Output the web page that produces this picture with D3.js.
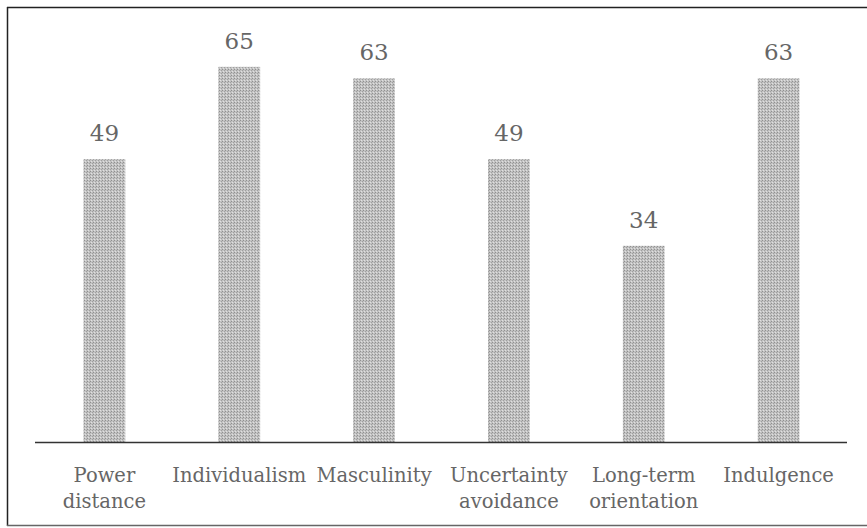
<!DOCTYPE html>
<meta charset="utf-8">
<style>
	body { margin: 0; background: #fff; }
</style>
<svg width="867" height="528"></svg>
<script src="https://cdn.jsdelivr.net/npm/d3@7"></script>
<script>
	var categories = ["Power distance", "Individualism", "Masculinity", "Uncertainty avoidance", "Long-term orientation", "Indulgence"];
	var labelLines = [["Power", "distance"], ["Individualism"], ["Masculinity"], ["Uncertainty", "avoidance"], ["Long-term", "orientation"], ["Indulgence"]];
	var scores = [49, 65, 63, 49, 34, 63];

	var serif = "'DejaVu Serif', serif";

	var svg = d3.select("svg"),
			width = +svg.attr("width"),
			height = +svg.attr("height");

	// stippled grey fill like the scanned bars
	var pat = svg.append("defs").append("pattern")
	.attr("id", "stipple")
	.attr("width", 3).attr("height", 3)
	.attr("patternUnits", "userSpaceOnUse");
	pat.append("rect").attr("width", 3).attr("height", 3).attr("fill", "#c2c2c2");
	pat.append("rect").attr("x", 0).attr("y", 0).attr("width", 1).attr("height", 1).attr("fill", "#909090");
	pat.append("rect").attr("x", 2).attr("y", 1).attr("width", 1).attr("height", 1).attr("fill", "#a0a0a0");
	pat.append("rect").attr("x", 1).attr("y", 2).attr("width", 1).attr("height", 1).attr("fill", "#e0e0e0");

	// frame: top, left, bottom (right edge is cut off)
	var frame = svg.append("g").attr("stroke", "#222").attr("stroke-width", 1.5);
	frame.append("line").attr("x1", 7).attr("x2", width).attr("y1", 7.5).attr("y2", 7.5);
	frame.append("line").attr("x1", 7.5).attr("x2", 7.5).attr("y1", 7).attr("y2", 526);
	frame.append("line").attr("x1", 7).attr("x2", width).attr("y1", 525.5).attr("y2", 525.5).attr("stroke", "#666");

	var x = d3.scaleBand()
	.domain(categories)
	.range([37, 846])
	.paddingInner(0.69)
	.paddingOuter(0.345);

	var y = d3.scaleLinear()
	.domain([0, 70])
	.range([442, 38]);

	svg.selectAll(".bar")
	.data(scores)
	.enter().append("rect")
	.attr("class", "bar")
	.attr("x", function(d, i) { return x(categories[i]); })
	.attr("width", x.bandwidth())
	.attr("y", function(d) { return y(d); })
	.attr("height", function(d) { return y(0) - y(d); })
	.attr("fill", "url(#stipple)");

	// baseline
	svg.append("line")
	.attr("x1", 35).attr("x2", 847)
	.attr("y1", y(0) + 0.5).attr("y2", y(0) + 0.5)
	.attr("stroke", "#333")
	.attr("stroke-width", 1.5);

	svg.selectAll(".value")
	.data(scores)
	.enter().append("text")
	.attr("class", "value")
	.attr("x", function(d, i) { return x(categories[i]) + x.bandwidth() / 2; })
	.attr("y", function(d) { return y(d) - 18; })
	.attr("text-anchor", "middle")
	.attr("font-family", serif)
	.attr("font-size", 23)
	.attr("fill", "#666")
	.text(function(d) { return d; });

	var lab = svg.selectAll(".cat")
	.data(categories)
	.enter().append("text")
	.attr("class", "cat")
	.attr("x", function(d) { return x(d) + x.bandwidth() / 2; })
	.attr("y", 482)
	.attr("text-anchor", "middle")
	.attr("font-family", serif)
	.attr("font-size", 19.5)
	.attr("fill", "#666");

	lab.selectAll("tspan")
	.data(function(d, i) { return labelLines[i]; })
	.enter().append("tspan")
	.attr("x", function() { return d3.select(this.parentNode).attr("x"); })
	.attr("dy", function(d, i) { return i ? 26 : 0; })
	.text(function(d) { return d; });
</script>
